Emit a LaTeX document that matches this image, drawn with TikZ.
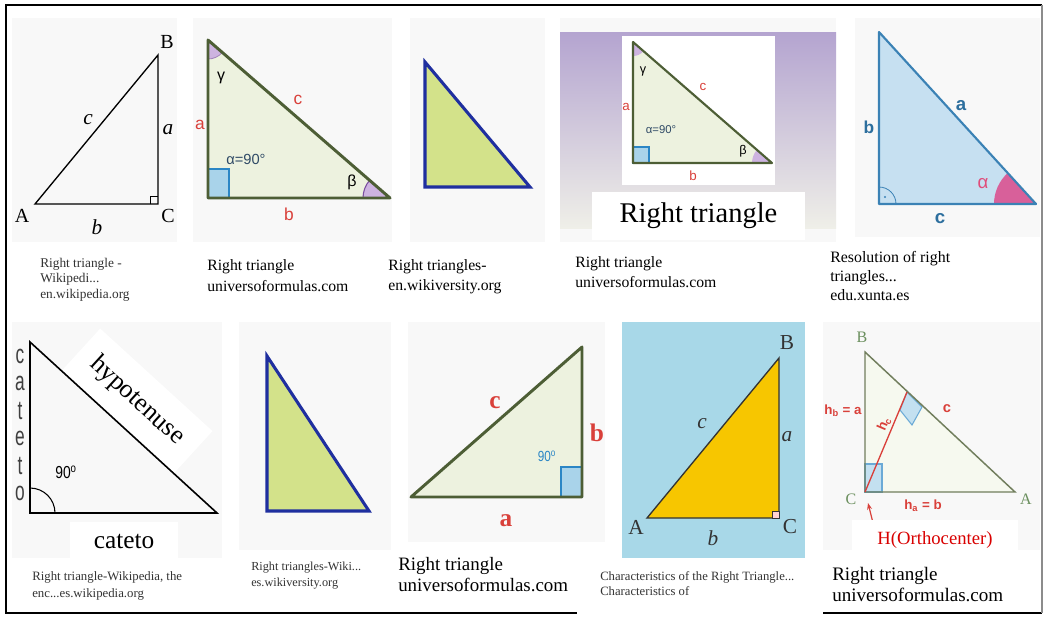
\documentclass[tikz,border=0pt]{standalone}
\usepackage{fontspec}
\setmainfont{Liberation Serif}
\setsansfont{Liberation Sans}
\usepackage{xcolor}
\usetikzlibrary{arrows.meta,calc}

\definecolor{olivegr}{HTML}{4D5E35}
\definecolor{palegr}{HTML}{EDF2DF}
\definecolor{sqblue}{HTML}{A9D3EA}
\definecolor{sqedge}{HTML}{2B86C5}
\definecolor{angpurp}{HTML}{CDB3E0}
\definecolor{angedge}{HTML}{7B4FA0}
\definecolor{labred}{HTML}{D9403A}
\definecolor{limefill}{HTML}{D3E28A}
\definecolor{navyedge}{HTML}{1F2F9F}
\definecolor{panelbg}{HTML}{F8F8F8}
\definecolor{lilac}{HTML}{B4A4D0}
\definecolor{mistbg}{HTML}{EFEFE8}
\definecolor{skyfill}{HTML}{C6E0F1}
\definecolor{skyedge}{HTML}{3B82B5}
\definecolor{skytext}{HTML}{2D6F9E}
\definecolor{pinkang}{HTML}{D8609A}
\definecolor{cyanbg}{HTML}{A8D8E8}
\definecolor{goldfill}{HTML}{F7C600}
\definecolor{sagegr}{HTML}{6B8F5E}
\definecolor{notegray}{HTML}{333333}
\definecolor{slatetxt}{HTML}{2F4A66}

\newcommand{\fsz}[2]{\fontsize{#1}{#2}\selectfont}

\tikzset{
  panel/.style={fill=panelbg, draw=none},
  note/.style={anchor=north west, align=left, inner sep=0pt, text=notegray},
  lbl/.style={inner sep=0pt},
  limetri/.style={fill=limefill, draw=navyedge, line width=2.3pt, line join=miter},
  olivetri/.style={fill=palegr, draw=olivegr, line width=2.2pt, line join=round},
  rightsq/.style={fill=sqblue, draw=sqedge, line width=1.2pt},
}

\begin{document}
\begin{tikzpicture}[x=0.75pt, y=-0.75pt]
  \useasboundingbox[fill=white] (0,0) rectangle (1045,622);

  % Panel backgrounds
  \foreach \xa/\ya/\xb/\yb in {12/18/177/242, 193/18/392/242, 410/18/545/242, 560/18/836/242,
      855/18/1040/237, 12/322/222/558, 239/322/391/550, 408/322/605/542, 823/322/1040/550}
    \fill[panel] (\xa,\ya) rectangle (\xb,\yb);

  % Panel 1: plain triangle ABC
  \coordinate (A1) at (35,204);
  \coordinate (C1) at (158,204);
  \coordinate (B1) at (158,55);
  \draw[line width=1pt] (A1) -- (C1) -- (B1) -- cycle;
  \draw[line width=0.7pt] ($(C1)+(-8,0)$) -- ++(0,-8) -- ++(8,0);
  \node[lbl, font=\fsz{15}{15}] (B1lab) at (167,42) {B};
  \node[lbl, font=\fsz{15}{15}] (A1lab) at (22,216) {A};
  \node[lbl, font=\fsz{15}{15}] (C1lab) at (168,216) {C};
  \node[lbl, font=\fsz{16}{16}\itshape] (a1lab) at (168,130) {a};
  \node[lbl, font=\fsz{16}{16}\itshape] (c1lab) at (88,120) {c};
  \node[lbl, font=\fsz{16}{16}\itshape] (b1lab) at (97,227) {b};
  \node[note, font=\fsz{10}{11.6}] (n1) at (40,258) {Right triangle -\\Wikipedi...\\en.wikipedia.org};

  % Panel 2: green triangle with angles
  \coordinate (T2) at (208,40);
  \coordinate (R2) at (208,198);
  \coordinate (E2) at (390,198);
  \fill[palegr] (T2) -- (R2) -- (E2) -- cycle;
  \fill[angpurp] (T2) -- ++(90:19) arc[start angle=90, end angle=41, radius=19] -- cycle;
  \draw[angedge!70, line width=0.6pt] ($(T2)+(90:19)$) arc[start angle=90, end angle=41, radius=19];
  \fill[angpurp] (E2) -- ++(180:27) arc[start angle=180, end angle=221, radius=27] -- cycle;
  \draw[angedge, line width=0.8pt] ($(E2)+(180:27)$) arc[start angle=180, end angle=221, radius=27];
  \draw[rightsq] (208,169) rectangle (229,198);
  \draw[olivetri, fill=none] (T2) -- (R2) -- (E2) -- cycle;
  \node[lbl, font=\sffamily\fsz{12}{12}] (g2) at (221,78) {γ};
  \node[lbl, font=\sffamily\fsz{13}{13}, text=labred] (c2) at (298,100) {c};
  \node[lbl, font=\sffamily\fsz{13}{13}, text=labred] (a2) at (200,125) {a};
  \node[lbl, font=\sffamily\fsz{11}{11}, text=slatetxt] (al2) at (246,159) {α=90°};
  \node[lbl, font=\sffamily\fsz{12}{12}] (be2) at (352,182) {β};
  \node[lbl, font=\sffamily\fsz{13}{13}, text=labred] (b2) at (289,214) {b};
  \node[note, font=\fsz{11.8}{15.75}, text=black] (n2) at (207,259) {Right triangle\\universoformulas.com};

  % Panel 3: lime triangle
  \coordinate (T3) at (425,62);
  \coordinate (L3) at (425,187);
  \coordinate (R3) at (530,187);
  \draw[limetri] (T3) -- (L3) -- (R3) -- cycle;
  \node[note, font=\fsz{11.8}{15}, text=black] (n3) at (388,259) {Right triangles-\\en.wikiversity.org};

  % Panel 4: framed triangle on lilac
  \shade[top color=lilac, bottom color=mistbg] (560,32) rectangle (836,228);
  \fill[white] (622,36) rectangle (775,185);
  \coordinate (T4) at (633,42);
  \coordinate (R4) at (633,163);
  \coordinate (E4) at (772,163);
  \fill[palegr] (T4) -- (R4) -- (E4) -- cycle;
  \fill[angpurp] (T4) -- ++(90:14) arc[start angle=90, end angle=41, radius=14] -- cycle;
  \fill[angpurp] (E4) -- ++(180:20) arc[start angle=180, end angle=221, radius=20] -- cycle;
  \draw[rightsq, line width=0.9pt] (633,147) rectangle (649,163);
  \draw[olivetri, fill=none, line width=1.6pt] (T4) -- (R4) -- (E4) -- cycle;
  \node[lbl, font=\sffamily\fsz{9.5}{9.5}] (g4) at (643,71) {γ};
  \node[lbl, font=\sffamily\fsz{10}{10}, text=labred] (c4) at (703,87) {c};
  \node[lbl, font=\sffamily\fsz{10}{10}, text=labred] (a4) at (626,107) {a};
  \node[lbl, font=\sffamily\fsz{8.5}{8.5}, text=slatetxt] (al4) at (661,130) {α=90°};
  \node[lbl, font=\sffamily\fsz{9.5}{9.5}] (be4) at (743,151) {β};
  \node[lbl, font=\sffamily\fsz{10}{10}, text=labred] (b4) at (693,176) {b};
  \node[fill=white, minimum width=160pt, minimum height=36pt, inner sep=0pt,
        font=\fsz{21.4}{21.4}] (title4) at (698.5,216) {Right triangle};
  \node[note, font=\fsz{11.8}{15}, text=black] (n4) at (575,256) {Right triangle\\universoformulas.com};

  % Panel 5: blue triangle
  \coordinate (T5) at (879,32);
  \coordinate (C5) at (879,204);
  \coordinate (E5) at (1036,204);
  \fill[skyfill] (T5) -- (C5) -- (E5) -- cycle;
  \fill[pinkang] (E5) -- ++(180:42) arc[start angle=180, end angle=227.6, radius=42] -- cycle;
  \draw[skyedge, line width=0.6pt] ($(C5)+(0,-17)$) arc[start angle=-90, end angle=0, radius=17];
  \fill[skyedge] (885,197) circle (1.1);
  \draw[skyedge, line width=1.6pt, line join=round] (T5) -- (C5) -- (E5) -- cycle;
  \node[lbl, font=\sffamily\bfseries\fsz{13}{13}, text=skytext] (b5) at (869,127) {b};
  \node[lbl, font=\sffamily\bfseries\fsz{14}{14}, text=skytext] (a5) at (961,106) {a};
  \node[lbl, font=\sffamily\bfseries\fsz{14}{14}, text=skytext] (c5) at (940,219) {c};
  \node[lbl, font=\sffamily\fsz{14}{14}, text=pinkang!80!red] (al5) at (983,184) {α};
  \node[note, font=\fsz{11.9}{14.2}, text=black] (n5) at (830,251) {Resolution of right\\triangles...\\edu.xunta.es};

  % Panel 6: cateto / hypotenuse
  \coordinate (T6) at (30,342);
  \coordinate (C6) at (30,513);
  \coordinate (E6) at (217,513);
  \node[fill=white, rotate=-42.4, minimum width=114pt, minimum height=43pt, inner sep=0pt,
        font=\fsz{19.5}{19.5}] (hyp6) at (137,401) {hypotenuse};
  \draw[line width=1.2pt] (T6) -- (C6) -- (E6) -- cycle;
  \draw[line width=0.8pt] ($(C6)+(0,-25)$) arc[start angle=-90, end angle=0, radius=25];
  \node[lbl, font=\sffamily\fsz{13}{13}, xscale=0.8] (deg6) at (66,472) {90\textsuperscript{o}};
  \foreach \ch [count=\i] in {c,a,t,e,t,o}
    \node[lbl, font=\sffamily\fsz{20}{20}, xscale=0.65, text=black!75] (cat\i) at (20,{356+27.4*(\i-1)}) {\ch};
  \fill[white] (70,522) rectangle (178,558);
  \node[lbl, font=\fsz{19}{19}] (cat6) at (124,541) {cateto};
  \node[note, font=\fsz{9.6}{12.75}] (n6) at (32,571) {Right triangle-Wikipedia, the\\enc...es.wikipedia.org};

  % Panel 7: lime triangle
  \coordinate (T7) at (267,356);
  \coordinate (L7) at (267,511);
  \coordinate (R7) at (369,511);
  \draw[limetri] (T7) -- (L7) -- (R7) -- cycle;
  \node[note, font=\fsz{9.2}{12}] (n7) at (251,562) {Right triangles-Wiki...\\es.wikiversity.org};

  % Panel 8: green triangle, bold sides
  \coordinate (L8) at (411,497);
  \coordinate (C8) at (582,497);
  \coordinate (T8) at (582,347);
  \fill[palegr] (L8) -- (C8) -- (T8) -- cycle;
  \draw[rightsq] (561,467) rectangle (582,497);
  \draw[olivetri, fill=none] (L8) -- (C8) -- (T8) -- cycle;
  \node[lbl, font=\bfseries\fsz{19}{19}, text=labred] (c8) at (495,403) {c};
  \node[lbl, font=\bfseries\fsz{19}{19}, text=labred] (b8) at (597,433) {b};
  \node[lbl, font=\bfseries\fsz{19}{19}, text=labred] (a8) at (506,521) {a};
  \node[lbl, font=\sffamily\fsz{11}{11}, xscale=0.8, text=sqedge] (deg8) at (547,456) {90\textsuperscript{o}};
  \node[note, font=\fsz{14.2}{15.75}, text=black] (n8) at (398,557) {Right triangle\\universoformulas.com};

  % Panel 9: gold triangle on cyan
  \fill[cyanbg] (622,322) rectangle (805,558);
  \coordinate (A9) at (647,518);
  \coordinate (C9) at (779,518);
  \coordinate (B9) at (779,358);
  \draw[fill=goldfill, draw=black!80, line width=1pt] (A9) -- (C9) -- (B9) -- cycle;
  \draw[fill=pink!70, draw=black!80, line width=0.6pt] ($(C9)+(-7,-7)$) rectangle (C9);
  \node[lbl, font=\fsz{16}{16}, text=black!80] (B9lab) at (787,343) {B};
  \node[lbl, font=\fsz{16}{16}, text=black!80] (A9lab) at (636,527) {A};
  \node[lbl, font=\fsz{16}{16}, text=black!80] (C9lab) at (790,527) {C};
  \node[lbl, font=\fsz{16}{16}\itshape, text=black!80] (c9) at (702,424) {c};
  \node[lbl, font=\fsz{16}{16}\itshape, text=black!80] (a9) at (787,437) {a};
  \node[lbl, font=\fsz{16}{16}\itshape, text=black!80] (b9) at (713,538) {b};
  \node[note, font=\fsz{9.5}{11.25}] (n9) at (600,571) {Characteristics of the Right Triangle...\\Characteristics of};

  % Panel 10: heights and orthocenter
  \coordinate (B10) at (865,352);
  \coordinate (C10) at (865,492);
  \coordinate (A10) at (1015,492);
  \coordinate (F10) at (907,392);
  \fill[palegr!50] (B10) -- (C10) -- (A10) -- cycle;
  \draw[fill=sqblue!70, draw=sqedge!70, line width=0.8pt] (865,464) rectangle (882,492);
  \draw[fill=sqblue!70, draw=sqedge!70, line width=0.8pt] (F10) -- (922,407) -- (912,425) -- (900,410) -- cycle;
  \draw[olivegr!80, line width=1.1pt] (B10) -- (C10) -- (A10) -- cycle;
  \draw[labred, line width=1pt] (C10) -- (F10);
  \node[lbl, font=\fsz{12}{12}, text=sagegr] (B10lab) at (862,337) {B};
  \node[lbl, font=\fsz{12}{12}, text=sagegr] (C10lab) at (851,499) {C};
  \node[lbl, font=\fsz{12}{12}, text=sagegr] (A10lab) at (1026,499) {A};
  \node[lbl, font=\sffamily\bfseries\fsz{10}{10}, text=labred] (hb10) at (843,411) {h\textsubscript{b} = a};
  \node[lbl, font=\sffamily\bfseries\fsz{10}{10}, text=labred, rotate=67] (hc10) at (884,424) {h\textsubscript{c}};
  \node[lbl, font=\sffamily\bfseries\fsz{11}{11}, text=labred] (c10) at (947,409) {c};
  \node[lbl, font=\sffamily\bfseries\fsz{10}{10}, text=labred] (ha10) at (923,506) {h\textsubscript{a} = b};
  \coordinate (arr10) at (873,523);
  \draw[labred, line width=0.9pt, -{Stealth[length=5pt]}] (arr10) -- (868,503);
  \fill[white] (852,520) rectangle (1018,553);
  \node[lbl, font=\fsz{14}{14}, text=red!85!black] (orth10) at (935,540) {H(Orthocenter)};
  \node[note, font=\fsz{14.3}{15.75}, text=black] (n10) at (832,567) {Right triangle\\universoformulas.com};

  % Outer frame
  \draw[line width=1.6pt] (1042,5) -- (6,5) -- (6,613) -- (1042,613);
  \draw[black!45, line width=1pt] (1042,5) -- (1042,613);
  \fill[white] (577,606) rectangle (823,620);
\end{tikzpicture}
\end{document}
